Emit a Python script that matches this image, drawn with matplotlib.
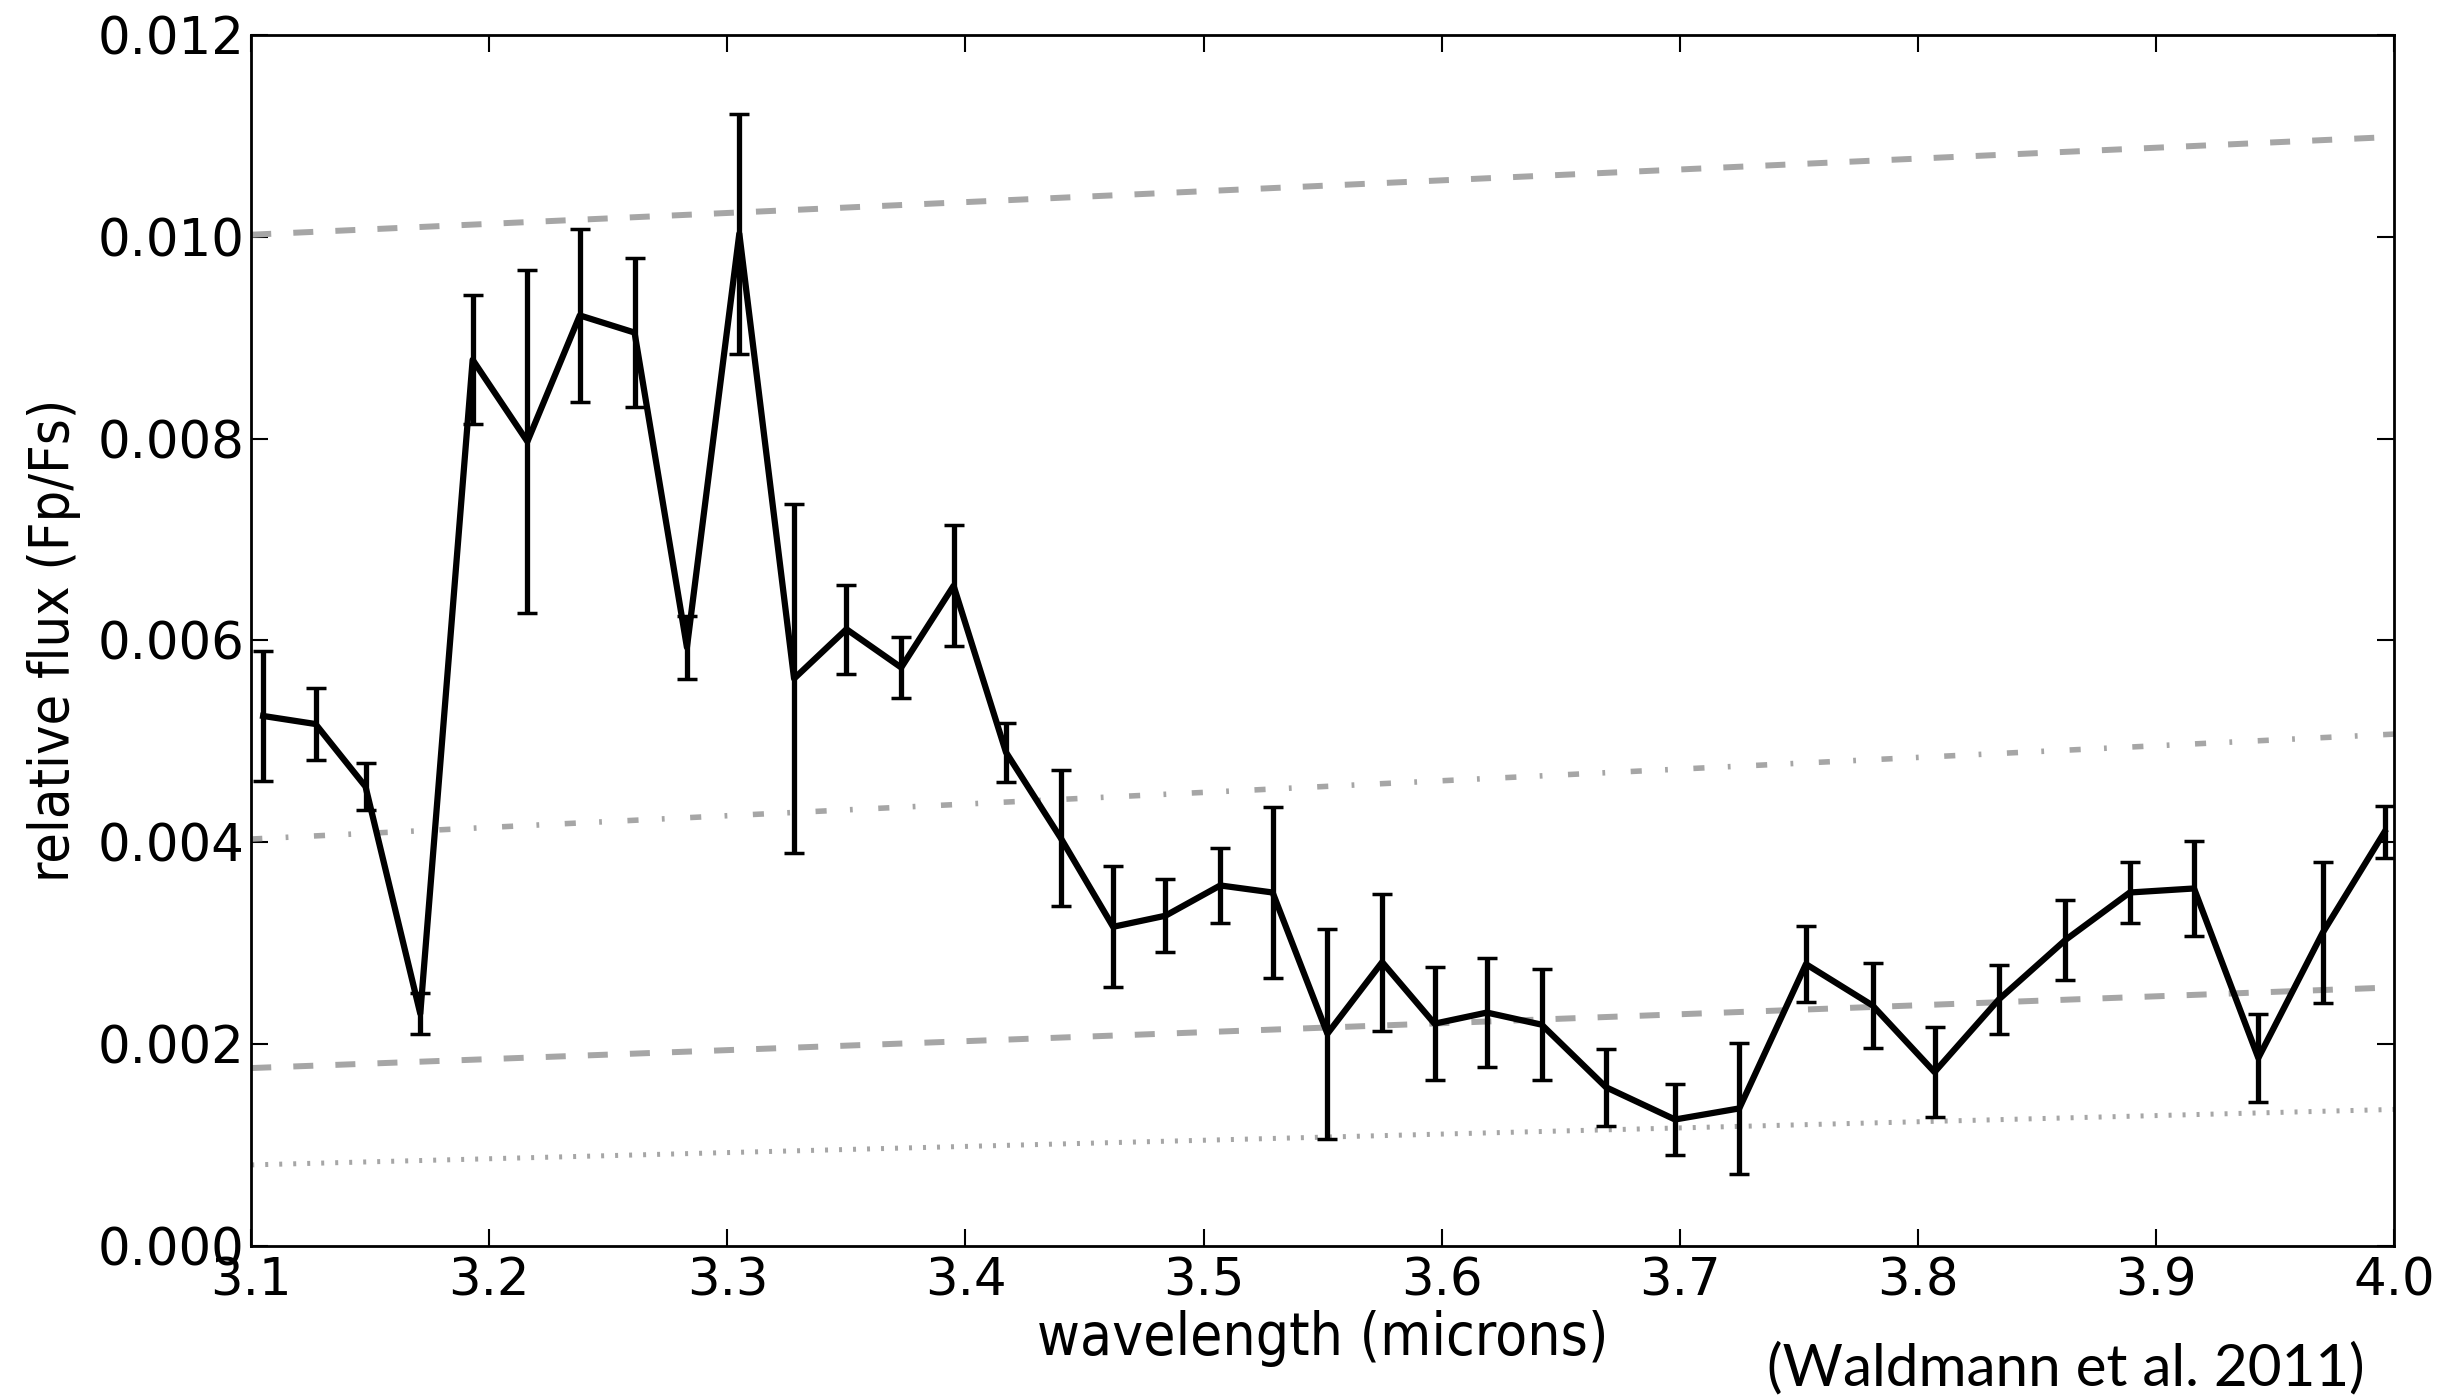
import matplotlib
matplotlib.use("Agg")
import matplotlib.pyplot as plt
import numpy as np

# wavelength bins (microns)
wavelength = [3.105, 3.127, 3.148, 3.171, 3.193, 3.216, 3.238, 3.261, 3.283, 3.305,
              3.328, 3.350, 3.373, 3.395, 3.417, 3.440, 3.462, 3.484, 3.507, 3.529,
              3.552, 3.575, 3.597, 3.619, 3.642, 3.669, 3.698, 3.725, 3.753, 3.781,
              3.807, 3.834, 3.862, 3.889, 3.916, 3.943, 3.970, 3.996]
flux = [0.00525, 0.00517, 0.00455, 0.00230, 0.00878, 0.00797, 0.00922, 0.00905, 0.00593, 0.01003,
        0.00562, 0.00611, 0.00573, 0.00654, 0.00489, 0.00404, 0.00316, 0.00327, 0.00357, 0.00350,
        0.00210, 0.00281, 0.00220, 0.00231, 0.00219, 0.00157, 0.00125, 0.00136, 0.00279, 0.00238,
        0.00172, 0.00244, 0.00303, 0.00350, 0.00354, 0.00186, 0.00310, 0.00410]
flux_err = [0.00064, 0.00036, 0.00023, 0.00020, 0.00064, 0.00170, 0.00086, 0.00074, 0.00031, 0.00119,
            0.00173, 0.00044, 0.00030, 0.00060, 0.00029, 0.00067, 0.00060, 0.00036, 0.00037, 0.00085,
            0.00104, 0.00068, 0.00056, 0.00054, 0.00055, 0.00038, 0.00035, 0.00065, 0.00038, 0.00042,
            0.00045, 0.00034, 0.00040, 0.00030, 0.00047, 0.00044, 0.00070, 0.00026]

# grey model lines (end points)
model_x = [3.1, 4.0]
model_top = [0.01002, 0.01099]
model_dashdot = [0.00403, 0.00507]
model_mid = [0.00176, 0.00256]
model_low = [0.00080, 0.00135]

fig = plt.figure(figsize=(24.63, 13.98), dpi=100)
ax = fig.add_axes([0.102, 0.109, 0.870, 0.866])

grey = "#a6a6a6"
ax.plot(model_x, model_top, color=grey, lw=4.3, dashes=(3.35, 3.7))
ax.plot(model_x, model_dashdot, color=grey, lw=4.0, dashes=(2.0, 4.2, 0.5, 4.6))
ax.plot(model_x, model_mid, color=grey, lw=4.3, dashes=(3.35, 3.7))
ax.plot(model_x, model_low, color=grey, lw=3.6, dashes=(0.6, 2.2))

ax.errorbar(wavelength, flux, yerr=flux_err, color="black", lw=4.5,
            elinewidth=3.8, capsize=7.5, capthick=2.5)

ax.set_xlim(3.1, 4.0)
ax.set_ylim(0, 0.012)
ax.set_xticks(np.arange(3.1, 4.01, 0.1))
ax.set_yticks(np.arange(0, 0.0121, 0.002))
ax.xaxis.set_major_formatter(matplotlib.ticker.FormatStrFormatter("%.1f"))
ax.yaxis.set_major_formatter(matplotlib.ticker.FormatStrFormatter("%.3f"))
ax.tick_params(direction="in", length=12, width=1.5, labelsize=37,
               top=True, right=True)
ax.tick_params(axis="x", pad=8)
ax.tick_params(axis="y", pad=5)
for sp in ax.spines.values():
    sp.set_linewidth(2.0)

ax.set_xlabel("wavelength (microns)", fontsize=42, fontstretch="condensed", labelpad=2)
ax.set_ylabel("relative flux (Fp/Fs)", fontsize=40, fontstretch="condensed", labelpad=12)

fig.text(0.96, 0.021, "(Waldmann et al. 2011)", ha="right", va="center",
         fontsize=42, family="Lato")

fig.savefig("out.png", dpi=100)
